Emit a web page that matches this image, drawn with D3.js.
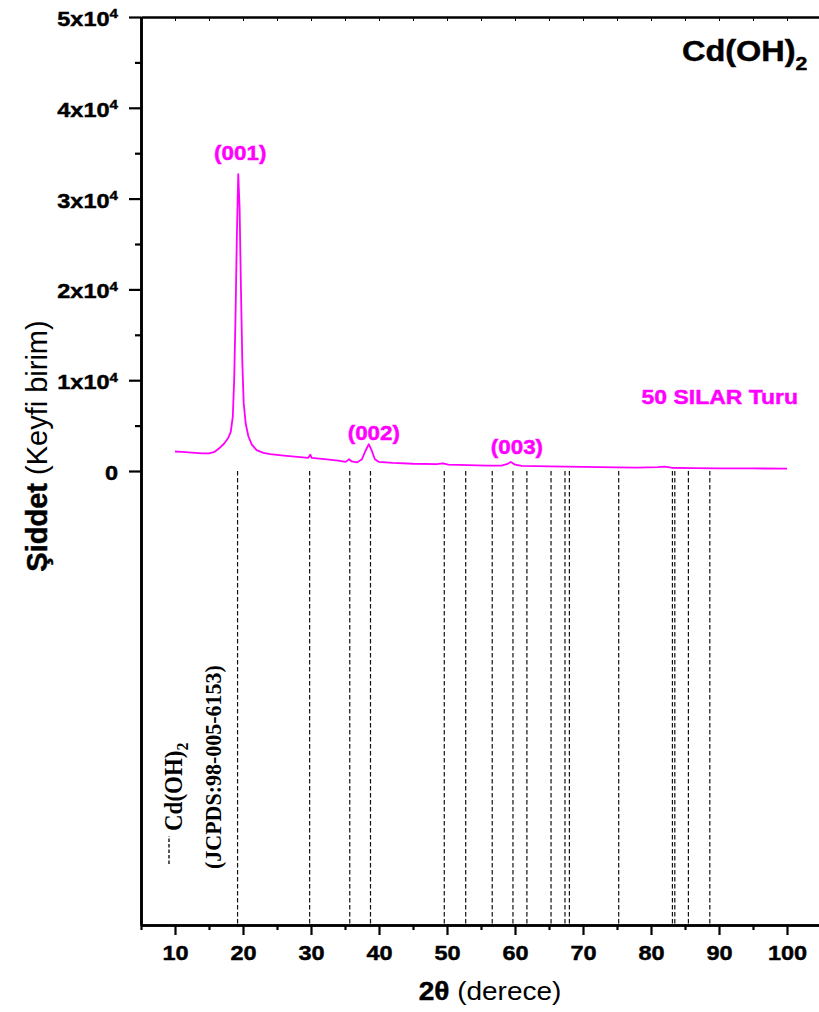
<!DOCTYPE html>
<html>
<head>
<meta charset="utf-8">
<script src="https://cdn.jsdelivr.net/npm/d3@7"></script>
<style>
  body { margin: 0; background: #fff; }
  svg { display: block; }
</style>
</head>
<body>
<svg id="chart" width="819" height="1012" font-family="'Liberation Sans', Arial, sans-serif"></svg>
<script>
// XRD pattern of Cd(OH)2 film (50 SILAR cycles)
const twoTheta = [10.0, 11.0, 12.0, 13.0, 14.0, 15.0, 15.8, 16.5, 17.2, 17.8, 18.2, 18.5, 18.7, 18.9, 19.1, 19.3,
  19.5, 19.7, 19.9, 20.1, 20.4, 20.8, 21.3, 22.0, 23.0, 24.0, 26.0, 28.0, 29.6, 29.9, 30.1, 32.0, 34.0, 35.1,
  35.6, 36.0, 36.8, 37.5, 38.0, 38.5, 38.9, 39.4, 40.0, 42.0, 45.0, 48.5, 49.4, 50.2, 53.0, 56.0, 58.0, 58.8,
  59.4, 60.0, 61.0, 65.0, 70.0, 75.0, 78.0, 81.0, 82.0, 83.0, 86.0, 90.0, 95.0, 100.0];
const intensity = [2150, 2100, 2050, 2000, 1950, 1950, 2100, 2500, 3000, 3600, 4300, 6000, 10000, 17000, 26000, 32700,
  29000, 20000, 12000, 7500, 5200, 3800, 2900, 2300, 2000, 1850, 1700, 1550, 1450, 1800, 1450, 1300, 1150, 1000,
  1300, 1050, 950, 1300, 2200, 2950, 2300, 1300, 1000, 900, 800, 750, 850, 700, 650, 600, 600, 750,
  1000, 700, 570, 500, 450, 400, 380, 420, 480, 360, 320, 300, 280, 260];

// JCPDS 98-005-6153 reference reflections (2θ)
const refPeaks = [19.2, 29.8, 35.7, 38.75, 49.6, 52.75, 56.65, 59.7, 61.75, 65.3, 67.35, 68.0, 75.25, 83.15, 83.5, 85.5, 88.65];

// Indexed reflections
const hklLabels = ["(001)", "(002)", "(003)"];
const hklTwoTheta = [19.3, 38.5, 59.4];
const hklIntensity = [32700, 2950, 1000];

const xMajorTicks = [10, 20, 30, 40, 50, 60, 70, 80, 90, 100];
const xMinorTicks = [5, 15, 25, 35, 45, 55, 65, 75, 85, 95];
const yMajorTicks = [0, 10000, 20000, 30000, 40000, 50000];
const yMinorTicks = [5000, 15000, 25000, 35000, 45000];

const magenta = "#ff00ff";
const sans = "'Liberation Sans', Arial, sans-serif";
const serif = "'Liberation Serif', 'Times New Roman', serif";
const wide = 1.12;   // horizontal widening of the lettering
const svg = d3.select("#chart");

const x = d3.scaleLinear().domain([5, 105]).range([141, 821]);
const y = d3.scaleLinear().domain([-50000, 50000]).range([925, 17]);

// text placed at (px, py) and widened horizontally
function label(px, py) {
  return svg.append("text").attr("transform", `translate(${px},${py}) scale(${wide},1)`)
    .attr("font-family", sans).attr("fill", "#000");
}
// slightly heavier bold lettering
function heavy(sel, color) {
  return sel.attr("stroke", color).attr("stroke-width", 0.45).attr("paint-order", "stroke");
}

// reference stick pattern (dashed lines below zero)
svg.append("g").selectAll("line").data(refPeaks).join("line")
  .attr("x1", d => x(d)).attr("x2", d => x(d))
  .attr("y1", y(0)).attr("y2", y(-50000))
  .attr("stroke", "#111").attr("stroke-width", 1.2).attr("stroke-dasharray", "4.5,2.5");

// measured pattern
const pts = twoTheta.map((t, i) => [t, intensity[i]]);
svg.append("path").datum(pts)
  .attr("fill", "none").attr("stroke", magenta).attr("stroke-width", 1.8)
  .attr("stroke-linejoin", "round")
  .attr("d", d3.line().x(d => x(d[0])).y(d => y(d[1])));

// axes
function styleAxis(g, w) {
  g.select(".domain").attr("stroke", "#000").attr("stroke-width", w);
  g.selectAll(".tick line").attr("stroke", "#000").attr("stroke-width", 2.2);
}

const xAxis = svg.append("g").attr("transform", `translate(0,${y(-50000)})`)
  .call(d3.axisBottom(x).tickValues(xMajorTicks).tickSize(10).tickSizeOuter(0).tickPadding(10));
styleAxis(xAxis, 2.6);
heavy(xAxis.selectAll("text").attr("font-size", 21).attr("font-weight", "bold").attr("fill", "#000")
  .attr("font-family", sans).attr("transform", `scale(${wide},1)`), "#000");

const xMinor = svg.append("g").attr("transform", `translate(0,${y(-50000)})`)
  .call(d3.axisBottom(x).tickValues(xMinorTicks).tickSize(5).tickSizeOuter(0).tickFormat(""));
styleAxis(xMinor, 2.6);

const xTop = svg.append("g").attr("transform", `translate(0,${y(50000)})`)
  .call(d3.axisBottom(x).tickValues(xMinorTicks.concat(xMajorTicks)).tickSize(4).tickSizeOuter(0).tickFormat(""));
styleAxis(xTop, 2.6);
xTop.selectAll(".tick line").attr("stroke-width", 1);

const yAxis = svg.append("g").attr("transform", `translate(${x(5)},0)`)
  .call(d3.axisLeft(y).tickValues(yMajorTicks).tickSize(12).tickSizeOuter(0).tickPadding(10));
styleAxis(yAxis, 2.6);
yAxis.selectAll("text").each(function (d) {
  const t = d3.select(this).text(null)
    .attr("font-size", 21).attr("font-weight", "bold").attr("fill", "#000")
    .attr("font-family", sans).attr("dy", "0.40em")
    .attr("x", -23 / wide).attr("transform", `scale(${wide},1)`);
  heavy(t, "#000");
  if (d === 0) { t.append("tspan").text("0"); return; }
  t.append("tspan").text(`${d / 10000}x10`);
  t.append("tspan").attr("dy", "-0.55em").attr("font-size", 13.5).text("4");
});

const yMinor = svg.append("g").attr("transform", `translate(${x(5)},0)`)
  .call(d3.axisLeft(y).tickValues(yMinorTicks).tickSize(6).tickSizeOuter(0).tickFormat(""));
styleAxis(yMinor, 2.6);

// axis titles
const xTitle = label(490, 1000).attr("text-anchor", "middle").attr("font-size", 25);
xTitle.append("tspan").attr("font-weight", "bold").attr("stroke", "#000").attr("stroke-width", 0.45).text("2θ");
xTitle.append("tspan").text(" (derece)");

const yTitle = svg.append("text").attr("transform", "translate(47,446) rotate(-90)")
  .attr("text-anchor", "middle").attr("font-size", 29).attr("fill", "#000").attr("font-family", sans);
yTitle.append("tspan").attr("font-weight", "bold").attr("stroke", "#000").attr("stroke-width", 0.45).text("Şiddet");
yTitle.append("tspan").text(" (Keyfi birim)");

// compound name
const title = heavy(label(682, 61).attr("font-size", 29).attr("font-weight", "bold"), "#000");
title.append("tspan").text("Cd(OH)");
title.append("tspan").attr("dy", 9).attr("font-size", 19).text("2");

// sample label
heavy(label(798, 404).attr("text-anchor", "end").attr("font-size", 20.5).attr("font-weight", "bold")
  .attr("fill", magenta).text("50 SILAR Turu"), magenta);

// reflection labels
const hklOffset = [[2, -14], [5, -4], [6, -8]];
hklLabels.forEach((d, i) => {
  heavy(label(x(hklTwoTheta[i]) + hklOffset[i][0], y(hklIntensity[i]) + hklOffset[i][1])
    .attr("text-anchor", "middle").attr("font-size", 20).attr("font-weight", "bold")
    .attr("fill", magenta).text(d), magenta);
});

// reference card legend (rotated)
svg.append("line").attr("x1", 169).attr("x2", 169).attr("y1", 864).attr("y2", 836)
  .attr("stroke", "#111").attr("stroke-width", 1.4).attr("stroke-dasharray", "3.5,2");
const leg1 = svg.append("text").attr("transform", "translate(182,831) rotate(-90) scale(1,1.08)")
  .attr("font-family", serif).attr("font-size", 23).attr("font-weight", "bold").attr("fill", "#000");
leg1.append("tspan").text("Cd(OH)");
leg1.append("tspan").attr("dy", 6).attr("font-size", 16).text("2");
svg.append("text").attr("transform", "translate(221,869) rotate(-90) scale(1,1.08)")
  .attr("font-family", serif).attr("font-size", 22).attr("font-weight", "bold").attr("fill", "#000")
  .text("(JCPDS:98-005-6153)");
</script>
</body>
</html>
